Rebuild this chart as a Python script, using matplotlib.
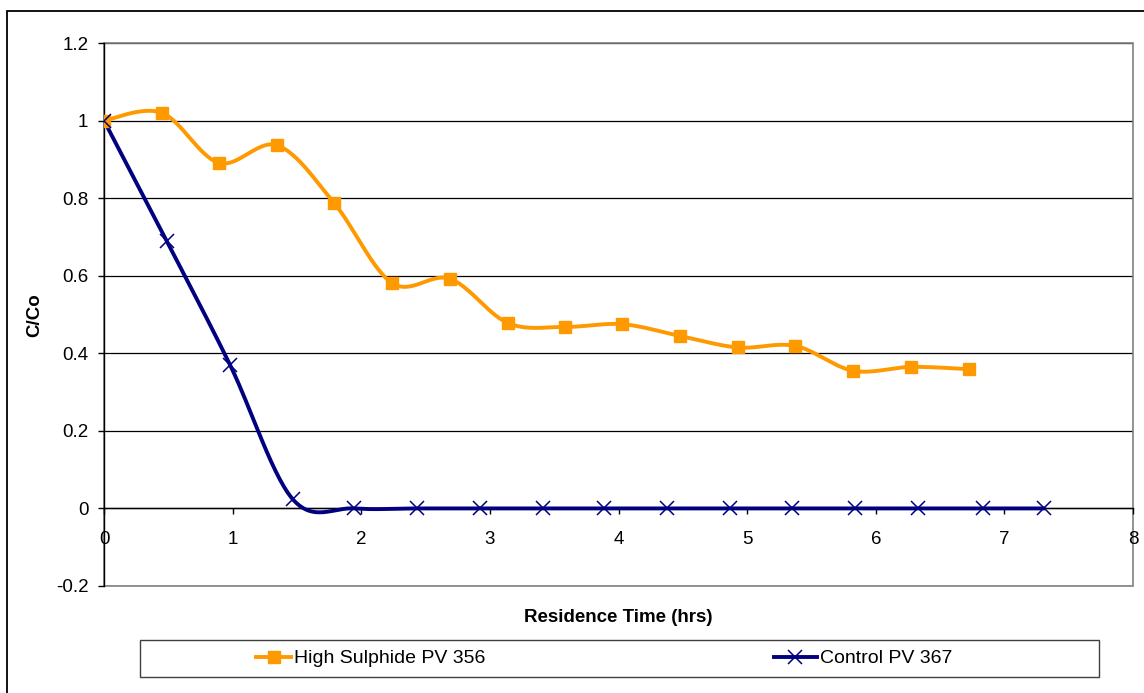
import numpy as np
import matplotlib
matplotlib.use("Agg")
import matplotlib.pyplot as plt
from matplotlib.patches import Rectangle
from matplotlib.lines import Line2D

# ---- data ----
hs_time = [0.0, 0.449, 0.893, 1.348, 1.79, 2.24, 2.69, 3.14, 3.585, 4.03, 4.476, 4.928, 5.375, 5.824, 6.276, 6.728]
hs_cc = [1.0, 1.02, 0.891, 0.936, 0.787, 0.581, 0.592, 0.478, 0.468, 0.475, 0.445, 0.415, 0.419, 0.355, 0.365, 0.359]

ctrl_time = [0.0, 0.487, 0.98, 1.467, 1.947, 2.43, 2.92, 3.41, 3.89, 4.38, 4.87, 5.35, 5.84, 6.33, 6.83, 7.31]
ctrl_cc = [1.0, 0.69, 0.37, 0.024, 0.0, 0.0, 0.0, 0.0, 0.0, 0.0, 0.0, 0.0, 0.0, 0.0, 0.0, 0.0]

series_names = ["High Sulphide PV 356", "Control PV 367"]
x_label = "Residence Time (hrs)"
y_label = "C/Co"
x_ticks = [0, 1, 2, 3, 4, 5, 6, 7, 8]
y_ticks = [-0.2, 0, 0.2, 0.4, 0.6, 0.8, 1.0, 1.2]

ORANGE = "#FF9900"
NAVY = "#000080"


def smooth(xs, ys, n=30):
    """Excel-like smoothed line (Catmull-Rom / cubic Bezier through points)."""
    p = np.column_stack([xs, ys]).astype(float)
    out = [p[0]]
    m = len(p)
    for i in range(m - 1):
        p0 = p[i - 1] if i > 0 else p[i]
        p1 = p[i]
        p2 = p[i + 1]
        p3 = p[i + 2] if i + 2 < m else p[i + 1]
        c1 = p1 + (p2 - p0) / 6.0
        c2 = p2 - (p3 - p1) / 6.0
        t = np.linspace(0, 1, n)[1:, None]
        seg = ((1 - t) ** 3) * p1 + 3 * ((1 - t) ** 2) * t * c1 + 3 * (1 - t) * t ** 2 * c2 + t ** 3 * p2
        out.extend(seg)
    out = np.array(out)
    return out[:, 0], out[:, 1]


plt.rcParams['font.family'] = ['Liberation Sans', 'DejaVu Sans']

W, H = 1144, 693
fig = plt.figure(figsize=(W / 100, H / 100), dpi=100)
ax = fig.add_axes([104 / W, 1 - 586 / H, (1133 - 104) / W, (586 - 43) / H])

ax.set_xlim(0, 8)
ax.set_ylim(-0.2, 1.2)

# gridlines
for yv in y_ticks:
    ax.axhline(yv, color="#000000", lw=0.9, zorder=0.5)

# plot area border (gray)
ax.add_patch(Rectangle((0, 0), 1, 1, transform=ax.transAxes, fill=False,
                       edgecolor="#808080", lw=1.2, zorder=0.6, clip_on=False))

# series
sx, sy = smooth(hs_time, hs_cc)
ax.plot(sx, sy, color=ORANGE, lw=2.8, zorder=3, solid_capstyle='round')
ax.plot(hs_time, hs_cc, ls='none', marker='s', ms=8.5, color=ORANGE, zorder=4)

cx, cy = smooth(ctrl_time, ctrl_cc)
ax.plot(cx, cy, color=NAVY, lw=2.8, zorder=3, solid_capstyle='round')
ax.plot(ctrl_time, ctrl_cc, ls='none', marker='x', ms=10, mew=1.1, color=NAVY, zorder=4)

# spines
for s in ['top', 'right']:
    ax.spines[s].set_visible(False)
ax.spines['left'].set_color('black')
ax.spines['left'].set_linewidth(1.0)
ax.spines['bottom'].set_position(('data', 0))
ax.spines['bottom'].set_color('black')
ax.spines['bottom'].set_linewidth(1.0)

ax.set_xticks(x_ticks)
ax.set_xticklabels([str(v) for v in x_ticks])
ax.set_yticks(y_ticks)
ax.set_yticklabels(['%g' % v for v in y_ticks])
ax.tick_params(axis='both', direction='out', length=4.3, width=1, color='black',
               labelsize=13.5, labelcolor='black')
ax.tick_params(axis='y', pad=7)
ax.tick_params(axis='x', pad=12)

fig.text(618 / W, 1 - 617 / H, x_label, fontsize=13.5, fontweight='bold',
         ha='center', va='center')
fig.text(35 / W, 1 - 315 / H, y_label, fontsize=13.5, fontweight='bold',
         ha='center', va='center', rotation=90)

# legend frame
fig.patches.append(Rectangle((140 / W, 1 - 677 / H), (1099 - 140) / W, 37 / H,
                             transform=fig.transFigure, fill=False,
                             edgecolor='#404040', lw=1.0))
# outer chart border (left/top visible, right/bottom outside the image)
top = 1 - 11 / H
fig.patches.append(Rectangle((7 / W, -0.2), 1.3, top + 0.2, transform=fig.transFigure,
                             fill=False, edgecolor='black', lw=1.3))

h1 = Line2D([], [], color=ORANGE, lw=2.8, marker='s', ms=8.5)
h2 = Line2D([], [], color=NAVY, lw=2.8, marker='x', ms=10, mew=1.1)
yc = 1 - 658.5 / H
leg1 = fig.legend([h1], [series_names[0]], loc='center left', bbox_to_anchor=(256 / W, yc),
                  frameon=False, fontsize=14, handlelength=1.8, handletextpad=0.15,
                  borderpad=0, borderaxespad=0)
leg2 = fig.legend([h2], [series_names[1]], loc='center left', bbox_to_anchor=(774 / W, yc),
                  frameon=False, fontsize=14, handlelength=2.2, handletextpad=0.15,
                  borderpad=0, borderaxespad=0)

fig.savefig("out.png", dpi=100)
